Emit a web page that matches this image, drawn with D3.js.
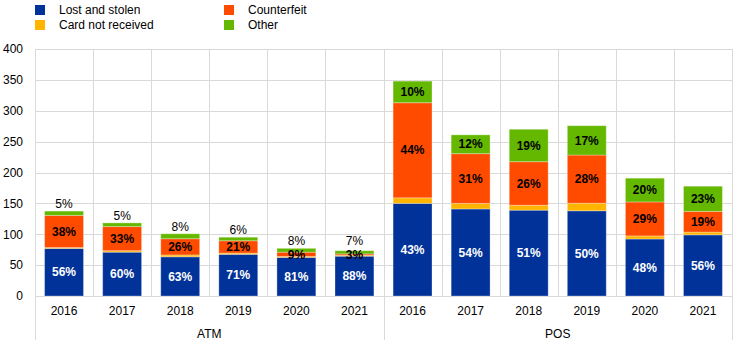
<!DOCTYPE html>
<html>
<head>
<meta charset="utf-8">
<script src="https://cdn.jsdelivr.net/npm/d3@7"></script>
<style>
  html, body { margin: 0; padding: 0; background: #fff; }
  svg { display: block; font-family: "Liberation Sans", Arial, sans-serif; }
</style>
</head>
<body>
<svg id="chart" width="744" height="345"></svg>
<script>
// Card fraud by channel (EUR millions), split by fraud type
const groups = ["ATM", "POS"];
const years = ["2016", "2017", "2018", "2019", "2020", "2021"];
const seriesNames = ["Lost and stolen", "Card not received", "Counterfeit", "Other"];
const seriesColors = ["#003299", "#FFB400", "#FF4B00", "#65B800"];

// ATM values, 2016-2021
const atmLost = [77, 71, 63.5, 67.5, 62.5, 64.5];
const atmNotReceived = [1.5, 2.4, 3, 2, 1.5, 1.5];
const atmCounterfeit = [52, 39, 26.3, 20, 7, 2.2];
const atmOther = [7, 6, 8, 5.7, 6.2, 5.1];

// POS values, 2016-2021
const posLost = [150, 141, 139, 138, 92.3, 99];
const posNotReceived = [9, 9, 8, 12.3, 5, 4.5];
const posCounterfeit = [154, 80.5, 70.5, 78, 55, 33.5];
const posOther = [35, 30.5, 52.5, 47.5, 38.5, 40.8];

const yTicks = [0, 50, 100, 150, 200, 250, 300, 350, 400];

// Build rows: one per (group, year)
const rows = [];
groups.forEach((g, gi) => {
  const src = gi === 0
    ? [atmLost, atmNotReceived, atmCounterfeit, atmOther]
    : [posLost, posNotReceived, posCounterfeit, posOther];
  years.forEach((yr, i) => {
    const row = { key: g + "-" + yr, group: g, year: yr };
    seriesNames.forEach((s, si) => { row[s] = src[si][i]; });
    rows.push(row);
  });
});

const svg = d3.select("#chart");
const plotLeft = 35, plotRight = 732, plotTop = 49, plotBottom = 296;

const x = d3.scaleBand()
  .domain(rows.map(d => d.key))
  .range([plotLeft, plotRight])
  .paddingInner(0.33)
  .paddingOuter(0.165);
const y = d3.scaleLinear().domain([0, 400]).range([plotBottom, plotTop]);
const step = x.step();
const gap = step * 0.33 / 2;

// Horizontal gridlines
svg.append("g")
  .selectAll("line")
  .data(yTicks)
  .join("line")
  .attr("x1", plotLeft).attr("x2", plotRight)
  .attr("y1", d => Math.round(y(d)) + 0.5).attr("y2", d => Math.round(y(d)) + 0.5)
  .attr("stroke", "#d9d9d9").attr("stroke-width", 1);

// Vertical separators between categories
const bounds = rows.map(d => x(d.key) - gap).concat([plotRight]);
svg.append("g")
  .selectAll("line")
  .data(bounds)
  .join("line")
  .attr("x1", d => Math.round(d) + 0.5).attr("x2", d => Math.round(d) + 0.5)
  .attr("y1", plotTop)
  .attr("y2", (d, i) => (i % 6 === 0 || i === bounds.length - 1) ? 340 : plotBottom)
  .attr("stroke", "#d9d9d9").attr("stroke-width", 1);

// Stacked bars
const stack = d3.stack().keys(seriesNames);
const stacked = stack(rows);
const color = d3.scaleOrdinal().domain(seriesNames).range(seriesColors);

svg.append("g")
  .selectAll("g")
  .data(stacked)
  .join("g")
  .attr("fill", d => color(d.key))
  .selectAll("rect")
  .data(d => d)
  .join("rect")
  .attr("x", d => x(d.data.key))
  .attr("width", x.bandwidth())
  .attr("y", d => y(d[1]))
  .attr("height", d => y(d[0]) - y(d[1]))
  .attr("stroke", "rgba(255,255,255,0.3)")
  .attr("stroke-width", 1);

// Percentage labels
const labels = svg.append("g").attr("font-size", 12).attr("text-anchor", "middle");
rows.forEach((r, ri) => {
  const total = seriesNames.reduce((a, s) => a + r[s], 0);
  const cx = x(r.key) + x.bandwidth() / 2;
  const lay = stacked.map(s => s[ri]);
  const pct = s => Math.round(100 * r[s] / total) + "%";
  // Lost and stolen
  labels.append("text")
    .attr("x", cx).attr("y", y((lay[0][0] + lay[0][1]) / 2))
    .attr("dy", "0.35em").attr("font-weight", "bold").attr("fill", "#fff")
    .text(pct("Lost and stolen"));
  // Counterfeit
  labels.append("text")
    .attr("x", cx).attr("y", y((lay[2][0] + lay[2][1]) / 2))
    .attr("dy", "0.35em").attr("font-weight", "bold").attr("fill", "#000")
    .text(pct("Counterfeit"));
  // Other: inside for POS, above the bar for ATM (kept clear of the counterfeit label)
  if (r.group === "POS") {
    labels.append("text")
      .attr("x", cx).attr("y", y((lay[3][0] + lay[3][1]) / 2))
      .attr("dy", "0.35em").attr("font-weight", "bold").attr("fill", "#000")
      .text(pct("Other"));
  } else {
    labels.append("text")
      .attr("x", cx).attr("y", Math.min(y(lay[3][1]) - 7, y(90)))
      .attr("dy", "0.35em").attr("fill", "#000")
      .text(pct("Other"));
  }
});

// Y axis
const yAxis = svg.append("g")
  .attr("transform", `translate(${plotLeft},0)`)
  .call(d3.axisLeft(y).tickValues(yTicks).tickSize(0).tickPadding(12));
yAxis.select(".domain").remove();
yAxis.selectAll("text").attr("font-size", 12).attr("fill", "#000")
  .attr("font-family", "Liberation Sans, Arial, sans-serif");

// X axis (years)
const xAxis = svg.append("g")
  .attr("transform", `translate(0,${plotBottom})`)
  .call(d3.axisBottom(x).tickSize(0).tickPadding(10).tickFormat(k => k.split("-")[1]));
xAxis.select(".domain").remove();
xAxis.selectAll("text").attr("font-size", 12).attr("fill", "#000")
  .attr("font-family", "Liberation Sans, Arial, sans-serif");

// Group labels
groups.forEach(g => {
  const first = x(g + "-" + years[0]) - gap;
  const last = x(g + "-" + years[years.length - 1]) + x.bandwidth() + gap;
  svg.append("text")
    .attr("x", (first + last) / 2).attr("y", 338)
    .attr("text-anchor", "middle").attr("font-size", 12).attr("fill", "#000")
    .text(g);
});

// Legend
const legend = svg.append("g").attr("font-size", 12);
const legendPos = [[35, 5], [35, 20], [224, 5], [224, 20]];
const legendOrder = ["Lost and stolen", "Card not received", "Counterfeit", "Other"];
legendOrder.forEach((s, i) => {
  const [lx, ly] = legendPos[i];
  legend.append("rect")
    .attr("x", lx).attr("y", ly).attr("width", 10).attr("height", 10)
    .attr("fill", color(s));
  legend.append("text")
    .attr("x", lx + 24).attr("y", ly + 5).attr("dy", "0.35em")
    .attr("fill", "#000").text(s);
});
</script>
</body>
</html>
